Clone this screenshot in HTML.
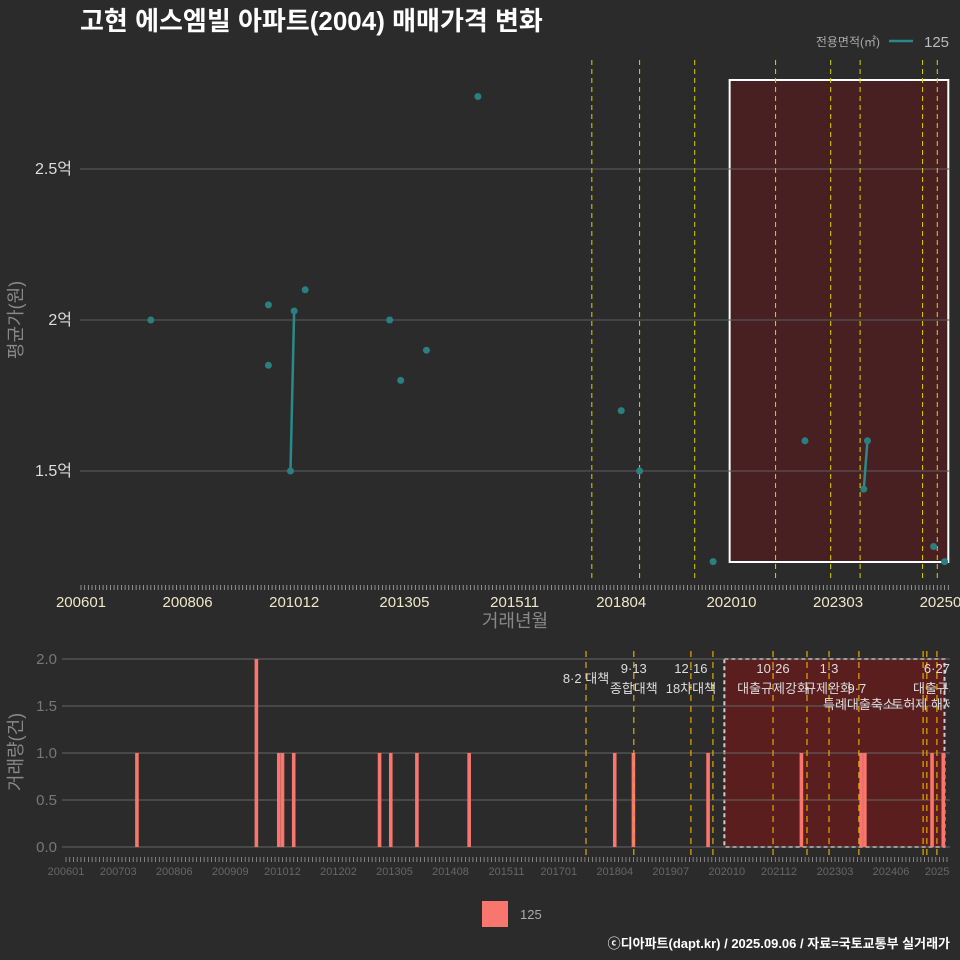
<!DOCTYPE html>
<html><head><meta charset="utf-8"><style>
body{margin:0;background:#2b2b2b;}
svg{display:block;font-family:"Liberation Sans","Noto Sans CJK KR",sans-serif;}
</style></head><body>
<svg id="c" width="960" height="960" viewBox="0 0 960 960">
<defs><clipPath id="clipB"><rect x="0" y="640" width="950" height="240"/></clipPath></defs>
<rect width="960" height="960" fill="#2b2b2b"/>
<text x="80" y="30" fill="#fff" font-size="26" font-weight="bold">고현 에스엠빌 아파트(2004) 매매가격 변화</text>
<text x="880" y="46" fill="#aaa" font-size="12" text-anchor="end">전용면적(㎡)</text>
<line x1="889" y1="41" x2="913" y2="41" stroke="#2a8a8a" stroke-width="2.5"/>
<text x="924" y="47" fill="#bbb" font-size="15">125</text>
<g id="topg"></g><g id="botg" clip-path="url(#clipB)"></g>
<text x="515" y="627" fill="#888" font-size="18" text-anchor="middle">거래년월</text>
<text transform="translate(22,320) rotate(-90)" fill="#888" font-size="18" text-anchor="middle">평균가(원)</text>
<text transform="translate(22,752) rotate(-90)" fill="#888" font-size="18" text-anchor="middle">거래량(건)</text>
<rect x="482" y="901" width="26" height="26" fill="#f8766d"/>
<text x="520" y="919" fill="#aaa" font-size="13">125</text>
<text x="950" y="948" fill="#fff" font-size="13" font-weight="bold" text-anchor="end">ⓒ디아파트(dapt.kr) / 2025.09.06 / 자료=국토교통부 실거래가</text>
</svg>
<script>
// month index: 0 = 2006-01
const priceMonths=[19,51,51,57,58,61,84,87,94,108,147,152,172,197,213,214,232,235];
const priceValues=[2.0,2.05,1.85,1.5,2.03,2.1,2.0,1.8,1.9,2.74,1.7,1.5,1.2,1.6,1.44,1.6,1.25,1.2];
const volMonths=[19,51,57,58,61,84,87,94,108,147,152,172,197,213,214,232,235];
const volValues=[1,2,1,1,1,1,1,1,1,1,1,1,1,1,1,1,1];
const xTickMonths=[0,29,58,88,118,147,177,206,235];
const xTickLabels=['200601','200806','201012','201305','201511','201804','202010','202303','202508'];
const bxTickMonths=[0,14,29,44,58,73,88,103,118,132,147,162,177,191,206,221,235];
const bxTickLabels=['200601','200703','200806','200909','201012','201202','201305','201408','201511','201701','201804','201907','202010','202112','202303','202406','202508'];
const yTicks=[1.5,2.0,2.5];
const yTickLabels=['1.5억','2억','2.5억'];
const vTicks=[0,0.5,1,1.5,2];
const vTickLabels=['0.0','0.5','1.0','1.5','2.0'];
const topPolicy=[139,152,167,189,204,212,229,233];
const botPolicy=[139.3,152.1,167.4,173.3,189.4,198.5,204.4,212.4,229.6,230.6,233.3];
const annotations=[[139.3,'8·2 대책',678,0],[152.1,'9·13',668,0],[152.1,'종합대책',688,0],[167.4,'12·16',668,0],[167.4,'18차대책',688,0],[189.4,'10·26',668,0],[189.4,'대출규제강화',688,0],[204.4,'1·3',668,0],[204.4,'규제완화',688,-1],[212.4,'9·7',688,-2],[212.4,'특례대출축소',704,0],[229.6,'토허제 해제',704,0],[233.3,'6·27',668,0],[233.3,'대출규제',688,0]];
const highlightStart=176.5, highlightEnd=236;

const NS='http://www.w3.org/2000/svg';
function mk(p,t,a){const e=document.createElementNS(NS,t);for(const k in a)e.setAttribute(k,a[k]);p.appendChild(e);return e;}
const xT=m=>81+m*3.675, yT=v=>320-(v-2)*302;
const xB=m=>66+m*3.733, yB=v=>847-v*94;
const topG=document.getElementById('topg'), botG=document.getElementById('botg');

let hr=mk(topG,'rect',{x:xT(highlightStart),y:80,width:xT(highlightEnd)-xT(highlightStart),height:482,fill:'rgba(110,20,25,0.45)',stroke:'#fff','stroke-width':2});


yTicks.forEach((v,i)=>{
 let l=mk(topG,'line',{x1:80,x2:950,y1:yT(v),y2:yT(v),stroke:'#5e5e5e','stroke-width':1});
 
 
 let t=mk(topG,'text',{x:72,y:yT(v)+5,fill:'#ddd','font-size':16,'text-anchor':'end'});t.textContent=yTickLabels[i];
 
 
});
topPolicy.forEach(m=>{
 let l=mk(topG,'line',{x1:xT(m),x2:xT(m),y1:60,y2:582,stroke:'#d8d800','stroke-width':1,'stroke-dasharray':'5,4'});
 
 
});
for(let m=0;m<=236;m++){mk(topG,'line',{x1:xT(m),x2:xT(m),y1:585,y2:590,stroke:'#aaa','stroke-width':0.8});}
xTickMonths.forEach((m,i)=>{
 let t=mk(topG,'text',{x:xT(m),y:607,fill:'#eee8c8','font-size':15,'text-anchor':'middle'});t.textContent=xTickLabels[i];
 
 
});
for(let i=1;i<priceMonths.length;i++){
 if(priceMonths[i]-priceMonths[i-1]===1){
  let l=mk(topG,'line',{x1:xT(priceMonths[i-1]),y1:yT(priceValues[i-1]),x2:xT(priceMonths[i]),y2:yT(priceValues[i]),stroke:'#2a8a8a','stroke-width':2.5});
  
  
 }
}
priceMonths.forEach((m,i)=>{
 let c=mk(topG,'circle',{cx:xT(m),cy:yT(priceValues[i]),r:3.5,fill:'#2a8080'});
 
 
});

let hb=mk(botG,'rect',{x:xB(highlightStart)-0.5,y:659,width:xB(highlightEnd)-xB(highlightStart)-2,height:188,fill:'rgba(130,20,22,0.55)',stroke:'#ccc','stroke-width':2,'stroke-dasharray':'4,3'});


vTicks.forEach((v,i)=>{
 let l=mk(botG,'line',{x1:62,x2:950,y1:yB(v),y2:yB(v),stroke:'#666','stroke-width':1});
 
 
 let t=mk(botG,'text',{x:57,y:yB(v)+5,fill:'#777','font-size':15,'text-anchor':'end'});t.textContent=vTickLabels[i];
 
 
});
volMonths.forEach((m,i)=>{
 let r=mk(botG,'rect',{x:xB(m)-1.8,y:yB(volValues[i]),width:3.6,height:yB(0)-yB(volValues[i]),fill:'#f8766d'});
 
 
});
botPolicy.forEach(m=>{
 let l=mk(botG,'line',{x1:xB(m),x2:xB(m),y1:651,y2:857,stroke:'#e6a800','stroke-width':1.2,'stroke-dasharray':'6,5'});
 
 
});
annotations.forEach(a=>{
 let t=mk(botG,'text',{x:xB(a[0])+a[3],y:a[2]+5,fill:'#ddd','font-size':13,'text-anchor':'middle'});t.textContent=a[1];
 
 
});
for(let m=0;m<=236;m++){mk(botG,'line',{x1:xB(m),x2:xB(m),y1:857,y2:862,stroke:'#999','stroke-width':0.8});}
bxTickMonths.forEach((m,i)=>{
 let t=mk(botG,'text',{x:xB(m),y:875,fill:'#666','font-size':11,'text-anchor':'middle'});t.textContent=bxTickLabels[i];
 
 
});
</script>
</body></html>
